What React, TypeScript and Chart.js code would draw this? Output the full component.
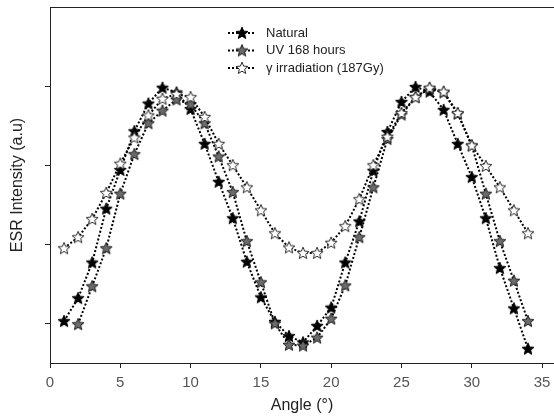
import React, { useEffect, useRef } from "react";
import { Chart, registerables } from "chart.js";

Chart.register(...registerables);

// ---- data ----
const naturalAngles = [1, 2, 3, 4, 5, 6, 7, 8, 9, 10, 11, 12, 13, 14, 15, 16, 17, 18, 19, 20, 21, 22, 23, 24, 25, 26, 27, 28, 29, 30, 31, 32, 33, 34];
const naturalValues = [1.03, 1.32, 1.77, 2.45, 2.94, 3.43, 3.78, 3.98, 3.92, 3.71, 3.27, 2.79, 2.33, 1.78, 1.33, 1.02, 0.84, 0.76, 0.97, 1.2, 1.77, 2.29, 2.93, 3.42, 3.8, 3.99, 3.93, 3.7, 3.27, 2.85, 2.33, 1.7, 1.19, 0.68];

const uvAngles = [2, 3, 4, 5, 6, 7, 8, 9, 10, 11, 12, 13, 14, 15, 16, 17, 18, 19, 20, 21, 22, 23, 24, 25, 26, 27, 28, 29, 30, 31, 32, 33, 34];
const uvValues = [0.99, 1.47, 1.95, 2.64, 3.14, 3.53, 3.69, 3.83, 3.77, 3.53, 3.11, 2.66, 2.04, 1.52, 1.0, 0.73, 0.72, 0.82, 1.06, 1.48, 2.09, 2.72, 3.33, 3.64, 3.86, 3.97, 3.92, 3.65, 3.25, 2.64, 2.04, 1.54, 1.03];

const gammaAngles = [1, 2, 3, 4, 5, 6, 7, 8, 9, 10, 11, 12, 13, 14, 15, 16, 17, 18, 19, 20, 21, 22, 23, 24, 25, 26, 27, 28, 29, 30, 31, 32, 33, 34];
const gammaValues = [1.95, 2.09, 2.32, 2.65, 3.02, 3.35, 3.63, 3.84, 3.9, 3.86, 3.61, 3.27, 3.0, 2.72, 2.43, 2.14, 1.96, 1.89, 1.89, 2.02, 2.23, 2.57, 3.0, 3.36, 3.66, 3.86, 3.98, 3.93, 3.66, 3.25, 2.99, 2.72, 2.43, 2.14];

const seriesLabels = ["Natural", "UV 168 hours", "\u03b3 irradiation (187Gy)"];
const xTickValues = [0, 5, 10, 15, 20, 25, 30, 35];
const yTickValues = [1, 2, 3, 4];

const FONT = "'Liberation Sans', Arial, sans-serif";
const X_MAX = 35.85;

function makeStar(fill: string, stroke: string): HTMLCanvasElement {
  const size = 14;
  const c = document.createElement("canvas");
  c.width = size;
  c.height = size;
  const ctx = c.getContext("2d")!;
  const cx = size / 2;
  const cy = size / 2 + 0.4;
  const R = 6.3;
  const r = 2.8;
  ctx.beginPath();
  for (let k = 0; k < 10; k++) {
    const ang = -Math.PI / 2 + (k * Math.PI) / 5;
    const rad = k % 2 === 0 ? R : r;
    const px = cx + rad * Math.cos(ang);
    const py = cy + rad * Math.sin(ang);
    if (k === 0) ctx.moveTo(px, py);
    else ctx.lineTo(px, py);
  }
  ctx.closePath();
  ctx.fillStyle = fill;
  ctx.fill();
  ctx.lineWidth = 1;
  ctx.strokeStyle = stroke;
  ctx.stroke();
  return c;
}

export default function App() {
  const ref = useRef<HTMLCanvasElement | null>(null);

  useEffect(() => {
    if (!ref.current) return;
    const stars = [
      makeStar("#000000", "#000000"),
      makeStar("#6a6a6a", "#1a1a1a"),
      makeStar("#ffffff", "#2a2a2a"),
    ];

    const legendPlugin = {
      id: "starLegend",
      afterDraw(chart: any) {
        const ctx = chart.ctx as CanvasRenderingContext2D;
        const x0 = 228;
        const x1 = 256;
        const top = 33;
        const step = 17.5;
        seriesLabels.forEach((label, i) => {
          const y = top + i * step;
          ctx.save();
          ctx.strokeStyle = "#000";
          ctx.lineWidth = 2;
          ctx.setLineDash([2, 2]);
          ctx.beginPath();
          ctx.moveTo(x0, y);
          ctx.lineTo(x1, y);
          ctx.stroke();
          ctx.setLineDash([]);
          const img = stars[i];
          ctx.drawImage(img, (x0 + x1) / 2 - img.width / 2, y - img.height / 2);
          ctx.fillStyle = "#222";
          ctx.font = `13px ${FONT}`;
          ctx.textBaseline = "middle";
          ctx.textAlign = "left";
          ctx.fillText(label, 266, y);
          ctx.restore();
        });
      },
    };

    const mk = (angles: number[], vals: number[]) => angles.map((a, i) => ({ x: a, y: vals[i] }));

    const common = {
      borderColor: "#000",
      borderWidth: 2,
      borderDash: [2, 2],
      tension: 0,
      fill: false,
      pointRadius: 7,
      pointHoverRadius: 7,
    };

    const noPad = (s: any) => {
      s.paddingLeft = 0;
      s.paddingRight = 0;
    };

    const chart = new Chart(ref.current, {
      type: "line",
      data: {
        datasets: [
          { ...common, label: seriesLabels[2], data: mk(gammaAngles, gammaValues), pointStyle: stars[2], order: 1 },
          { ...common, label: seriesLabels[1], data: mk(uvAngles, uvValues), pointStyle: stars[1], order: 2 },
          { ...common, label: seriesLabels[0], data: mk(naturalAngles, naturalValues), pointStyle: stars[0], order: 3 },
        ],
      },
      options: {
        animation: false,
        responsive: false,
        maintainAspectRatio: false,
        layout: { autoPadding: false, padding: { top: 7, right: -1, left: 0, bottom: 0 } },
        plugins: { legend: { display: false }, tooltip: { enabled: false } },
        scales: {
          x: {
            type: "linear",
            position: "bottom",
            min: 0,
            max: X_MAX,
            afterBuildTicks: (s: any) => {
              s.ticks = xTickValues.map((v) => ({ value: v }));
            },
            afterFit: (s: any) => {
              s.height = 55;
              noPad(s);
            },
            ticks: {
              color: "#555",
              font: { family: FONT, size: 15 },
              padding: 6,
              maxRotation: 0,
              autoSkip: false,
            },
            grid: { drawOnChartArea: false, drawTicks: true, tickLength: 5, color: "#222", lineWidth: 1 },
            border: { display: true, color: "#222", width: 1 },
            title: {
              display: true,
              text: "Angle (\u00b0)",
              color: "#222",
              font: { family: FONT, size: 16 },
              padding: { top: 0, bottom: 3 },
            },
          },
          x2: {
            type: "linear",
            position: "top",
            axis: "x",
            min: 0,
            max: X_MAX,
            ticks: { display: false },
            grid: { display: false, drawTicks: false },
            border: { display: true, color: "#222", width: 1 },
            afterFit: (s: any) => {
              s.height = 0;
              noPad(s);
            },
          },
          y: {
            type: "linear",
            position: "left",
            min: 0.5,
            max: 5,
            afterBuildTicks: (s: any) => {
              s.ticks = yTickValues.map((v) => ({ value: v }));
            },
            afterFit: (s: any) => {
              s.width = 50;
            },
            ticks: { display: false },
            grid: { drawOnChartArea: false, drawTicks: true, tickLength: 5, color: "#222", lineWidth: 1 },
            border: { display: true, color: "#222", width: 1 },
            title: {
              display: true,
              text: "ESR Intensity (a.u)",
              color: "#222",
              font: { family: FONT, size: 16 },
              padding: { top: 8, bottom: 0 },
            },
          },
        },
      } as any,
      plugins: [legendPlugin],
    });

    return () => {
      chart.destroy();
    };
  }, []);

  return (
    <div style={{ position: "fixed", left: 0, top: 0, width: 554, height: 418, background: "#fff" }}>
      <canvas ref={ref} width={554} height={418} />
    </div>
  );
}
